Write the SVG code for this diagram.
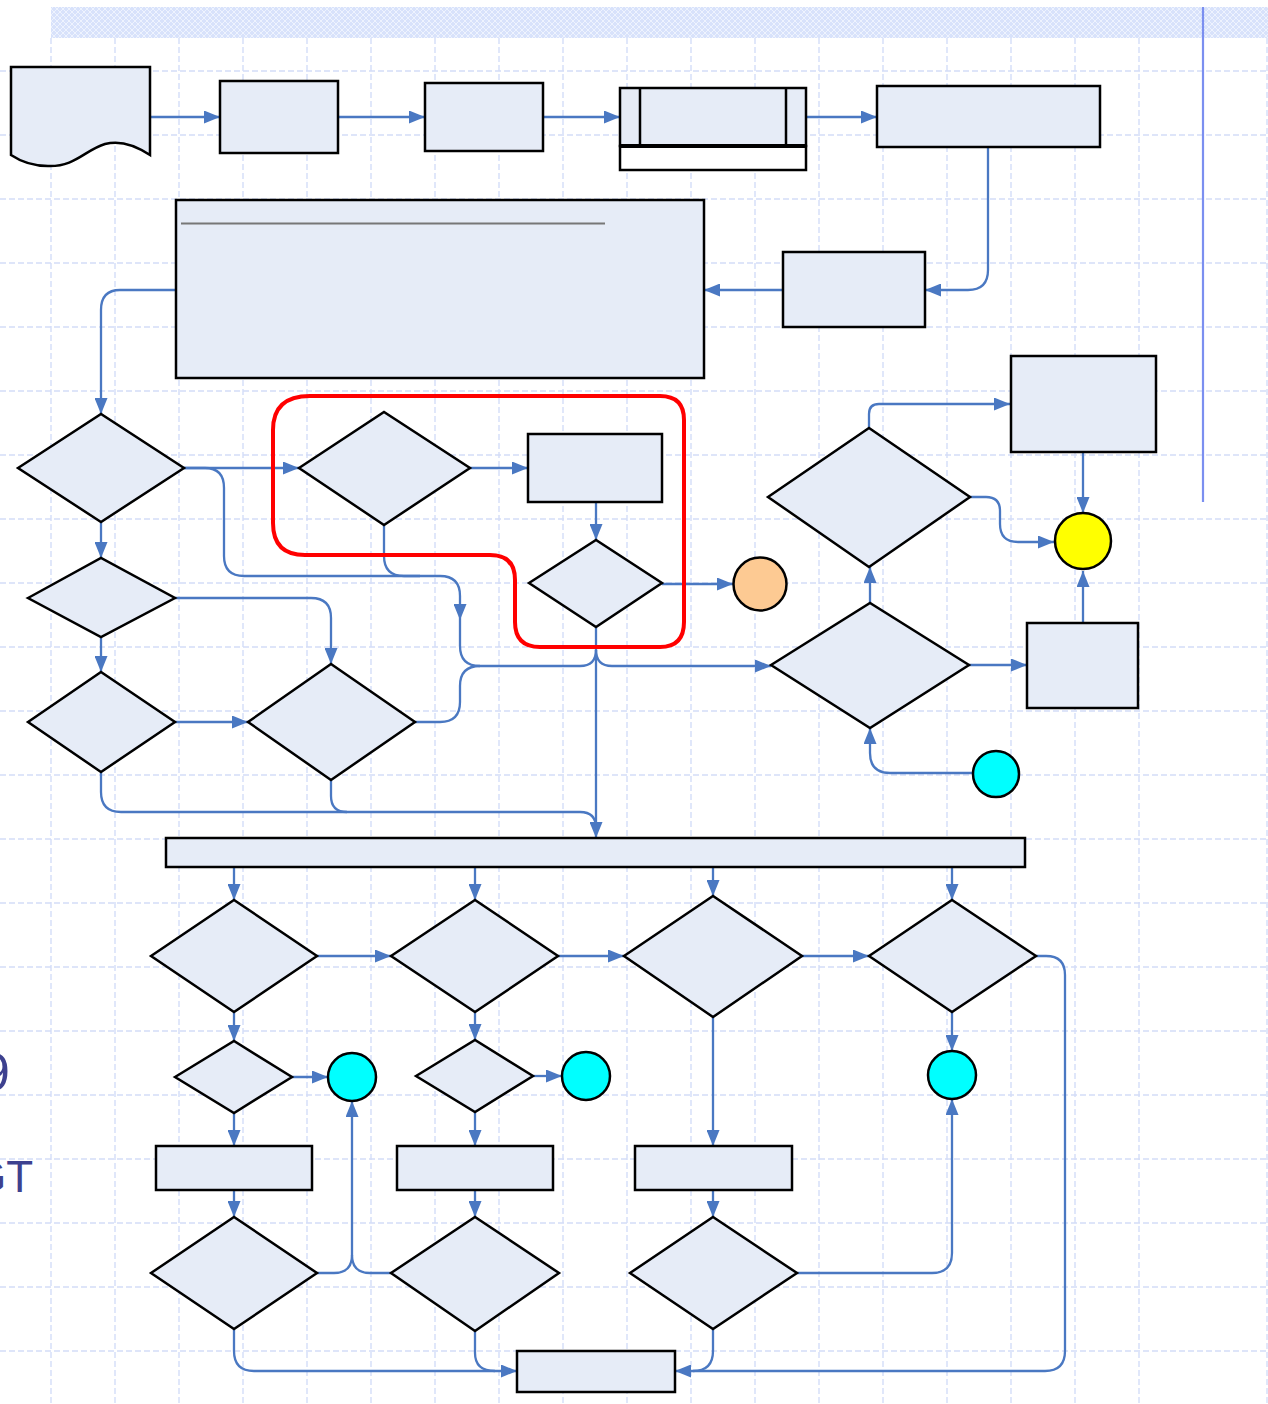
<svg xmlns="http://www.w3.org/2000/svg" width="1268" height="1404" viewBox="0 0 1268 1404">
<style>
.n{fill:#e6ecf7;stroke:#000;stroke-width:2.5}
.c{fill:none;stroke:#4a78c2;stroke-width:2.3}
.a{marker-end:url(#ah)}
.g{fill:none;stroke:#d3ddf8;stroke-width:1.4;stroke-dasharray:6,3}
.k{stroke:#000;stroke-width:2.5}
</style>
<defs>
<marker id="ah" viewBox="0 0 16 13" refX="16" refY="6.5" markerWidth="16" markerHeight="13" orient="auto" markerUnits="userSpaceOnUse"><path d="M0,0 L16,6.5 L0,13 Z" fill="#4a78c2"/></marker>
<pattern id="hatch" width="6" height="6" patternUnits="userSpaceOnUse"><rect width="6" height="6" fill="#d8e2fb"/><path d="M0,0 L6,6 M6,0 L0,6" stroke="#eef3fe" stroke-width="1"/></pattern>
</defs>
<rect width="1268" height="1404" fill="#fff"/>
<g id="grid">
<path class="g" d="M51,38V1404 M115,38V1404 M179,38V1404 M243,38V1404 M307,38V1404 M371,38V1404 M435,38V1404 M499,38V1404 M563,38V1404 M627,38V1404 M691,38V1404 M755,38V1404 M819,38V1404 M883,38V1404 M947,38V1404 M1011,38V1404 M1075,38V1404 M1139,38V1404 M1267,38V1404"/>
<path class="g" d="M0,71H1268 M0,135H1268 M0,199H1268 M0,263H1268 M0,327H1268 M0,391H1268 M0,455H1268 M0,519H1268 M0,583H1268 M0,647H1268 M0,711H1268 M0,775H1268 M0,839H1268 M0,903H1268 M0,967H1268 M0,1031H1268 M0,1095H1268 M0,1159H1268 M0,1223H1268 M0,1287H1268 M0,1351H1268"/>
</g>
<rect id="banner" x="51" y="7" width="1217" height="31" fill="url(#hatch)"/>
<line id="margin" x1="1203" y1="7" x2="1203" y2="502" stroke="#7b8ff0" stroke-width="2.2"/>
<g id="fragments" font-family="Liberation Sans, Arial, sans-serif" fill="#3d418f">
<text x="-19" y="1090" font-size="52">9</text>
<text x="-28" y="1192" font-size="44">GT</text>
</g>
<g id="connectors">
<path class="c a" d="M150,117H220"/>
<path class="c a" d="M338,117H425"/>
<path class="c a" d="M543,117H620"/>
<path class="c a" d="M806,117H877"/>
<path class="c a" d="M988,147V270Q988,290 968,290H925"/>
<path class="c a" d="M783,290H704"/>
<path class="c a" d="M176,290H120Q101,290 101,310V414"/>
<path class="c a" d="M184,468H299"/>
<path class="c a" d="M470,468H528"/>
<path class="c a" d="M596,502V540"/>
<path class="c a" d="M662,584H733"/>
<path class="c a" d="M184,468H205Q224,468 224,488V556Q224,576 244,576H440Q460,576 460,596V620"/>
<path class="c" d="M460,620V646Q460,666 480,666H580Q596,666 596,650"/>
<path class="c" d="M384,525V556Q384,576 404,576H420"/>
<path class="c" d="M415,722H440Q460,722 460,702V686Q460,666 480,666"/>
<path class="c a" d="M596,627V838"/>
<path class="c a" d="M596,650Q596,666 612,666H771"/>
<path class="c a" d="M101,522V558"/>
<path class="c a" d="M175,598H311Q331,598 331,618V664"/>
<path class="c a" d="M101,637V672"/>
<path class="c a" d="M175,722H248"/>
<path class="c" d="M101,772V792Q101,812 121,812H580Q596,812 596,828"/>
<path class="c" d="M331,780V796Q331,812 347,812"/>
<path class="c a" d="M870,603V567"/>
<path class="c a" d="M869,428V414Q869,404 879,404H1010"/>
<path class="c a" d="M1083,452V513"/>
<path class="c a" d="M970,497H986Q1000,497 1000,511V524Q1000,542 1018,542H1054"/>
<path class="c a" d="M969,665H1027"/>
<path class="c a" d="M1083,622V571"/>
<path class="c a" d="M973,773H890Q870,773 870,753V728"/>
<path class="c a" d="M234,867V900"/>
<path class="c a" d="M475,867V900"/>
<path class="c a" d="M713,867V896"/>
<path class="c a" d="M952,867V900"/>
<path class="c a" d="M317,956H391"/>
<path class="c a" d="M558,956H624"/>
<path class="c a" d="M802,956H869"/>
<path class="c a" d="M1036,956H1046Q1065,956 1065,975V1351Q1065,1371 1045,1371H675"/>
<path class="c a" d="M234,1012V1041"/>
<path class="c a" d="M292,1077H328"/>
<path class="c a" d="M234,1113V1146"/>
<path class="c a" d="M234,1190V1217"/>
<path class="c a" d="M475,1012V1040"/>
<path class="c a" d="M533,1076H562"/>
<path class="c a" d="M475,1112V1146"/>
<path class="c a" d="M475,1190V1217"/>
<path class="c a" d="M713,1017V1146"/>
<path class="c a" d="M713,1190V1217"/>
<path class="c a" d="M952,1012V1051"/>
<path class="c a" d="M317,1273H334Q352,1273 352,1255V1101"/>
<path class="c" d="M391,1273H370Q352,1273 352,1255"/>
<path class="c a" d="M797,1273H932Q952,1273 952,1253V1099"/>
<path class="c a" d="M234,1329V1351Q234,1371 254,1371H517"/>
<path class="c" d="M475,1331V1353Q475,1371 495,1371"/>
<path class="c" d="M713,1329V1351Q713,1371 693,1371"/>
</g>
<g id="doc"><path class="n" d="M11,67H150V155C135,145 120,140 105,144C85,150 75,167 48,166C32,166 20,161 11,155Z"/></g>
<g id="r2"><rect class="n" x="220" y="81" width="118" height="72"/></g>
<g id="r3"><rect class="n" x="425" y="83" width="118" height="68"/></g>
<g id="pp"><rect class="n" x="620" y="88" width="186" height="58"/><path class="k" d="M640,88V146M786,88V146"/><rect x="620" y="146" width="186" height="24" fill="#fff" stroke="#000" stroke-width="2.5"/><path d="M620,146H806" stroke="#000" stroke-width="4"/></g>
<g id="r5"><rect class="n" x="877" y="86" width="223" height="61"/></g>
<g id="r6"><rect class="n" x="783" y="252" width="142" height="75"/></g>
<g id="big"><rect class="n" x="176" y="200" width="528" height="178"/><path d="M181,223.5H605" stroke="#777" stroke-width="2"/></g>
<g id="d1"><polygon class="n" points="18,468 101,414 184,468 101,522"/></g>
<g id="d2"><polygon class="n" points="299,468 384,412 470,468 384,525"/></g>
<g id="r7"><rect class="n" x="528" y="434" width="134" height="68"/></g>
<g id="d3"><polygon class="n" points="529,583 596,540 662,583 596,627"/></g>
<g id="co"><circle cx="760" cy="584" r="26.5" fill="#fdca93" stroke="#000" stroke-width="2.5"/></g>
<g id="d4"><polygon class="n" points="28,598 101,558 175,598 101,637"/></g>
<g id="d5a"><polygon class="n" points="28,722 101,672 175,722 101,772"/></g>
<g id="d6b"><polygon class="n" points="248,722 331,664 415,722 331,780"/></g>
<g id="d6"><polygon class="n" points="768,497 869,428 970,497 869,567"/></g>
<g id="d5"><polygon class="n" points="771,665 870,603 969,665 870,728"/></g>
<g id="r8"><rect class="n" x="1011" y="356" width="145" height="96"/></g>
<g id="cy"><circle cx="1083" cy="541" r="28" fill="#ffff00" stroke="#000" stroke-width="2.5"/></g>
<g id="r9"><rect class="n" x="1027" y="623" width="111" height="85"/></g>
<g id="cc0"><circle cx="996" cy="774" r="23" fill="#00ffff" stroke="#000" stroke-width="2.5"/></g>
<g id="bar"><rect class="n" x="166" y="838" width="859" height="29"/></g>
<g id="ld1"><polygon class="n" points="151,956 234,900 317,956 234,1012"/></g>
<g id="ld2"><polygon class="n" points="391,956 475,900 558,956 475,1012"/></g>
<g id="ld3"><polygon class="n" points="624,956 713,896 802,956 713,1017"/></g>
<g id="ld4"><polygon class="n" points="869,956 952,900 1036,956 952,1012"/></g>
<g id="sd1"><polygon class="n" points="175,1077 234,1041 292,1077 234,1113"/></g>
<g id="sd2"><polygon class="n" points="416,1076 475,1040 533,1076 475,1112"/></g>
<g id="cc1"><circle cx="352" cy="1077" r="24" fill="#00ffff" stroke="#000" stroke-width="2.5"/></g>
<g id="cc2"><circle cx="586" cy="1076" r="24" fill="#00ffff" stroke="#000" stroke-width="2.5"/></g>
<g id="cc4"><circle cx="952" cy="1075" r="24" fill="#00ffff" stroke="#000" stroke-width="2.5"/></g>
<g id="rb1"><rect class="n" x="156" y="1146" width="156" height="44"/></g>
<g id="rb2"><rect class="n" x="397" y="1146" width="156" height="44"/></g>
<g id="rb3"><rect class="n" x="635" y="1146" width="157" height="44"/></g>
<g id="bd1"><polygon class="n" points="151,1273 234,1217 317,1273 234,1329"/></g>
<g id="bd2"><polygon class="n" points="391,1273 475,1217 559,1273 475,1331"/></g>
<g id="bd3"><polygon class="n" points="630,1273 713,1217 797,1273 713,1329"/></g>
<g id="end"><rect class="n" x="517" y="1351" width="158" height="41"/></g>
<g id="highlight"><path d="M310,396H660Q684,396 684,420V622Q684,647 660,647H540Q515,647 515,622V580Q515,555 490,555H305Q273,555 273,523V430Q273,396 310,396Z" fill="none" stroke="#ff0000" stroke-width="4"/></g>
</svg>
